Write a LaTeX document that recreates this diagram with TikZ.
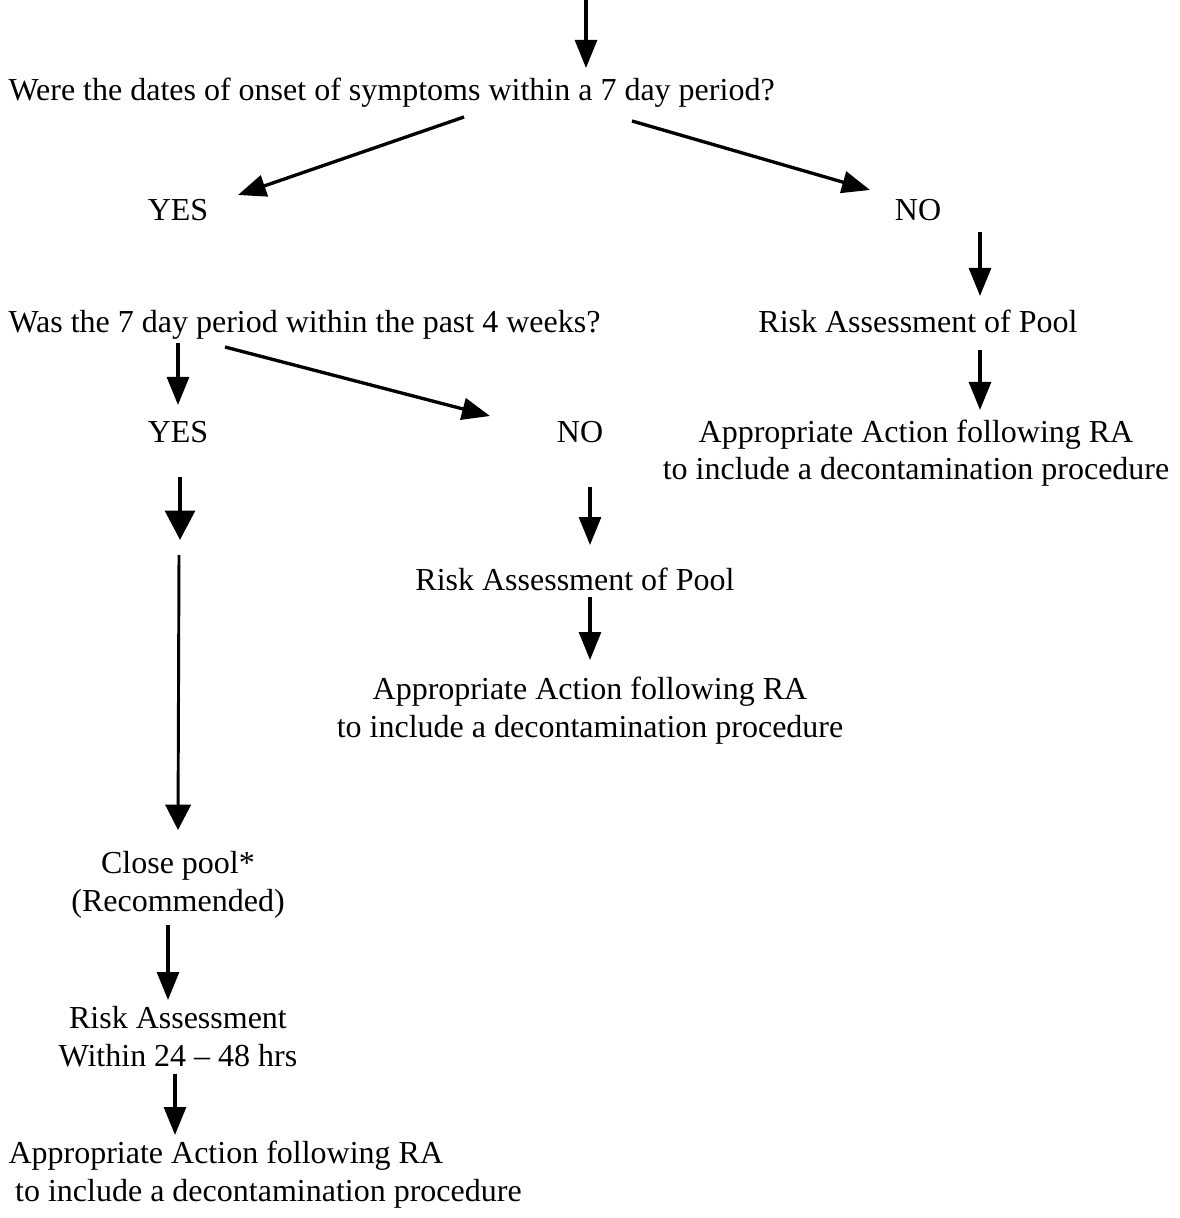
\documentclass[tikz,border=0pt]{standalone}
\usepackage{fontspec}
\setmainfont{Liberation Serif}
\usetikzlibrary{arrows.meta,calc}

\tikzset{
  txt/.style={anchor=base,inner sep=0pt,font=\fontsize{12}{13.9}\selectfont},
  arr/.style={line width=1.25pt,-{Triangle[length=10.5pt,width=8.2pt]}},
  longarr/.style={line width=1.1pt,-{Triangle[length=9.5pt,width=9.5pt]}},
  bigarr/.style={line width=1.8pt,-{Triangle[length=11pt,width=11pt]}}
}

\begin{document}
\begin{tikzpicture}[x=0.375pt,y=0.375pt,yscale=-1]
        \useasboundingbox (0,0) rectangle (1179,1218);
        \coordinate (start) at (586,0);
        \coordinate (gap) at (179,548);

        % Text Node
        \node[txt,anchor=base west] (q1) at (8,101) {Were the dates of onset of symptoms within a 7 day period?};
        % Text Node
        \node[txt] (yes1) at (178,221) {YES};
        % Text Node
        \node[txt] (no1) at (918,221) {NO};
        % Text Node
        \node[txt] (ra1) at (918,333) {Risk Assessment of Pool};
        % Text Node
        \node[txt,align=center] (act1) at (916,480) {Appropriate Action following RA\\to include a decontamination procedure};
        % Text Node
        \node[txt,anchor=base west] (q2) at (8,333) {Was the 7 day period within the past 4 weeks?};
        % Text Node
        \node[txt] (yes2) at (178,443) {YES};
        % Text Node
        \node[txt] (no2) at (580,443) {NO};
        % Text Node
        \node[txt] (ra2) at (575,590) {Risk Assessment of Pool};
        % Text Node
        \node[txt,align=center] (act2) at (590,737) {Appropriate Action following RA\\to include a decontamination procedure};
        % Text Node
        \node[txt,align=center] (close) at (178,911) {Close pool*\\(Recommended)};
        % Text Node
        \node[txt,align=center] (ra3) at (178,1066) {Risk Assessment\\Within 24 -- 48 hrs};
        % Text Node
        \node[txt,align=left,anchor=base west] (act3) at (8,1201) {Appropriate Action following RA\\\hspace{2.5pt}to include a decontamination procedure};

        %Straight Lines
        \draw[arr] (start) -- ($(q1.base west)+(578,-33)$);
        \draw[arr] ($(q1.base west)+(456,16)$) -- ($(yes1.base)+(60,-26)$);
        \draw[arr] ($(q1.base west)+(624,20)$) -- ($(no1.base)+(-48,-31)$);
        \draw[arr] ($(no1.base)+(62,11)$) -- ($(ra1.base)+(62,-37)$);
        \draw[arr] ($(ra1.base)+(62,17)$) -- ($(act1.base)+(64,-70)$);
        %Straight Lines
        \draw[arr] ($(q2.base west)+(170,10)$) -- ($(yes2.base)+(0,-38)$);
        \draw[arr] ($(q2.base west)+(217,14)$) -- ($(no2.base)+(-90,-27)$);
        \draw[arr] ($(no2.base)+(10,44)$) -- ($(ra2.base)+(15,-45)$);
        \draw[arr] ($(ra2.base)+(15,7)$) -- ($(act2.base)+(0,-77)$);
        %Straight Lines
        \draw[bigarr] ($(yes2.base)+(2,34)$) -- ($(gap)+(1,-8)$);
        \draw[longarr] ($(gap)+(0,7)$) -- ($(close.base)+(0,-81)$);
        \draw[arr] ($(close.base)+(-10,14)$) -- ($(ra3.base)+(-10,-66)$);
        \draw[arr] ($(ra3.base)+(-3,8)$) -- ($(act3.base west)+(167,-66)$);
\end{tikzpicture}
\end{document}
